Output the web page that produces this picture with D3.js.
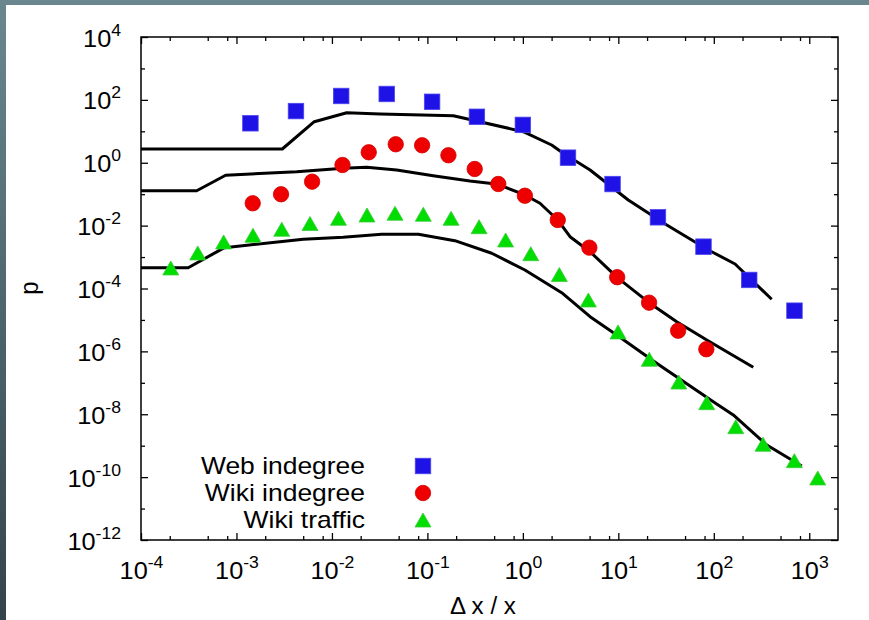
<!DOCTYPE html>
<html>
<head>
<meta charset="utf-8">
<script src="https://cdn.jsdelivr.net/npm/d3@7"></script>
<style>
  html, body { margin: 0; padding: 0; background: #ffffff; }
  svg { display: block; font-family: "Liberation Sans", Arial, Helvetica, sans-serif; }
</style>
</head>
<body>
<script>
// Measured series (symbols)
const webX = [1.4e-3, 4.2e-3, 1.25e-2, 3.75e-2, 0.112, 0.33, 1.0, 2.97, 8.7, 26, 78, 235, 700];
const webP = [18, 44, 133, 154, 87, 29, 16, 1.45, 0.21, 0.0184, 2.14e-3, 1.87e-4, 1.97e-5];

const wikiInX = [1.48e-3, 2.93e-3, 6.2e-3, 1.29e-2, 2.43e-2, 4.66e-2, 8.8e-2, 0.166, 0.313, 0.553,
                 1.05, 2.32, 4.97, 9.73, 21, 42.3, 83.5];
const wikiInP = [0.0514, 0.0993, 0.25, 0.849, 2.15, 3.87, 3.59, 1.73, 0.634, 0.211,
                 0.0895, 0.0151, 1.99e-3, 2.29e-4, 3.54e-5, 4.55e-6, 1.17e-6];

const trafficX = [2.05e-4, 3.93e-4, 7.34e-4, 1.49e-3, 2.98e-3, 5.89e-3, 1.17e-2, 2.33e-2, 4.58e-2, 9.06e-2,
                  0.177, 0.348, 0.66, 1.21, 2.41, 4.85, 9.93, 21.1, 43, 84.3, 170, 328, 698, 1227];
const trafficP = [4.5e-4, 1.35e-3, 3.02e-3, 4.93e-3, 7.66e-3, 1.17e-2, 1.71e-2, 2.18e-2, 2.47e-2, 2.30e-2,
                  1.71e-2, 9.25e-3, 3.49e-3, 1.28e-3, 2.79e-4, 4.31e-5, 4.14e-6, 5.61e-7, 1.06e-7, 2.34e-8,
                  4.03e-9, 1.11e-9, 3.34e-10, 9.4e-11];

// Model curves (black lines)
const webFitX = [1e-4, 3.02e-3, 6.53e-3, 1.43e-2, 3.19e-2, 0.187, 1.01, 2.0, 2.65, 5.06, 12.7, 32.2, 87.7, 167, 404];
const webFitP = [2.74, 2.74, 20.2, 39.1, 35.6, 31.4, 9.73, 3.67, 2.0, 0.589, 0.0655, 0.0105, 1.68e-3, 6.03e-4, 4.54e-5];

const wikiFitX = [1e-4, 3.83e-4, 7.7e-4, 4.28e-3, 1.31e-2, 2.31e-2, 4.77e-2, 0.115, 0.279, 0.55,
                  1.05, 1.51, 2.32, 3.12, 5.06, 9.77, 21, 40.9, 84.4, 259];
const wikiFitP = [0.129, 0.129, 0.399, 0.52, 0.667, 0.717, 0.589, 0.387, 0.263, 0.206,
                  0.0944, 0.0514, 0.0151, 4.45e-3, 1.48e-3, 2.21e-4, 3.54e-5, 8.81e-6, 2.31e-6, 3.12e-7];

const trafficFitX = [1e-4, 3.12e-4, 7.47e-4, 5.01e-3, 1.31e-2, 3.32e-2, 8.04e-2, 0.194, 0.472,
                     1.05, 2.55, 5.06, 9.62, 25.2, 98.8, 160, 359, 834];
const trafficFitP = [4.59e-4, 4.59e-4, 1.99e-3, 3.68e-3, 4.26e-3, 5.31e-3, 5.31e-3, 3.32e-3, 1.32e-3,
                     3.88e-4, 7.36e-5, 1.27e-5, 3.32e-6, 4.19e-7, 2.51e-8, 9.48e-9, 1.05e-9, 2.26e-10];

// Tick exponents
const xTickExps = [-4, -3, -2, -1, 0, 1, 2, 3];
const xMinorMantissas = [2, 5, 8];
const yTickExps = [-12, -10, -8, -6, -4, -2, 0, 2, 4];
const yMinorExps = [-11, -9, -7, -5, -3, -1, 1, 3];

const legendLabels = ["Web indegree", "Wiki indegree", "Wiki traffic"];

const W = 869, H = 620;
const L = 141, R = 838, T = 37, B = 540;
const FONT = 23, SUP = 16;

const x = d3.scaleLog().domain([1e-4, 2e3]).range([L, R]);
const y = d3.scaleLog().domain([1e-12, 1e4]).range([B, T]);

const svg = d3.select("body").append("svg").attr("width", W).attr("height", H);

// window-like frame behind the white canvas
const defs = svg.append("defs");
const grad = defs.append("linearGradient").attr("id", "frameGrad")
  .attr("x1", 0).attr("y1", 0).attr("x2", 0).attr("y2", 1);
grad.append("stop").attr("offset", "0%").attr("stop-color", "#6a8790");
grad.append("stop").attr("offset", "100%").attr("stop-color", "#33434b");
svg.append("rect").attr("width", W).attr("height", H).attr("fill", "url(#frameGrad)");
svg.append("rect").attr("x", 6).attr("y", 5).attr("width", W - 6).attr("height", H - 5).attr("fill", "#ffffff");

const xMajor = xTickExps.map(e => Math.pow(10, e));
const xMinor = [];
xTickExps.forEach(e => xMinorMantissas.forEach(m => {
  const v = m * Math.pow(10, e);
  if (v < x.domain()[1]) xMinor.push(v);
}));
const yMajor = yTickExps.map(e => Math.pow(10, e));
const yMinor = yMinorExps.map(e => Math.pow(10, e));

function expOf(v) { return Math.round(Math.log10(v)); }

// "10" with a raised exponent, slightly widened like the plotting font
function powerLabel(text, v, tx, ty) {
  text.attr("x", 0).attr("y", 0).attr("dy", null)
    .attr("transform", `translate(${tx},${ty}) scale(1.1,1)`)
    .attr("fill", "#000").attr("font-size", FONT);
  text.text(null);
  text.append("tspan").text("10");
  text.append("tspan").attr("font-size", SUP).attr("dy", -11).text(String(expOf(v)));
}

function tidy(g) {
  g.select(".domain").remove();
  g.selectAll(".tick line").attr("stroke", "#000").attr("stroke-width", 1.3);
}

// bottom axis
svg.append("g").attr("transform", `translate(0,${B})`)
  .call(d3.axisBottom(x).tickValues(xMajor).tickSizeInner(-7).tickSizeOuter(0).tickFormat(""))
  .call(tidy)
  .call(g => g.selectAll(".tick text").attr("text-anchor", "middle")
    .each(function (d) { powerLabel(d3.select(this), d, 0, 39); }));
svg.append("g").attr("transform", `translate(0,${B})`)
  .call(d3.axisBottom(x).tickValues(xMinor).tickSizeInner(-4).tickSizeOuter(0).tickFormat(""))
  .call(tidy).call(g => g.selectAll(".tick text").remove());

// top mirror
svg.append("g").attr("transform", `translate(0,${T})`)
  .call(d3.axisBottom(x).tickValues(xMajor).tickSizeInner(7).tickSizeOuter(0).tickFormat(""))
  .call(tidy).call(g => g.selectAll(".tick text").remove());
svg.append("g").attr("transform", `translate(0,${T})`)
  .call(d3.axisBottom(x).tickValues(xMinor).tickSizeInner(4).tickSizeOuter(0).tickFormat(""))
  .call(tidy).call(g => g.selectAll(".tick text").remove());

// left axis
svg.append("g").attr("transform", `translate(${L},0)`)
  .call(d3.axisLeft(y).tickValues(yMajor).tickSizeInner(-7).tickSizeOuter(0).tickFormat(""))
  .call(tidy)
  .call(g => g.selectAll(".tick text").attr("text-anchor", "end")
    .each(function (d) { powerLabel(d3.select(this), d, -20, 9); }));
svg.append("g").attr("transform", `translate(${L},0)`)
  .call(d3.axisLeft(y).tickValues(yMinor).tickSizeInner(-4).tickSizeOuter(0).tickFormat(""))
  .call(tidy).call(g => g.selectAll(".tick text").remove());

// right mirror
svg.append("g").attr("transform", `translate(${R},0)`)
  .call(d3.axisLeft(y).tickValues(yMajor).tickSizeInner(7).tickSizeOuter(0).tickFormat(""))
  .call(tidy).call(g => g.selectAll(".tick text").remove());
svg.append("g").attr("transform", `translate(${R},0)`)
  .call(d3.axisLeft(y).tickValues(yMinor).tickSizeInner(4).tickSizeOuter(0).tickFormat(""))
  .call(tidy).call(g => g.selectAll(".tick text").remove());

// frame
svg.append("rect").attr("x", L).attr("y", T).attr("width", R - L).attr("height", B - T)
  .attr("fill", "none").attr("stroke", "#000").attr("stroke-width", 1.5);

// axis titles
svg.append("text").attr("transform", "translate(483,614) scale(1.05,1)").attr("text-anchor", "middle")
  .attr("font-size", FONT).attr("fill", "#000").text("Δ x / x");
svg.append("text").attr("transform", "translate(38,288) rotate(-90) scale(1,1.1)").attr("text-anchor", "middle")
  .attr("font-size", FONT + 1).attr("fill", "#000").text("p");

// model lines
const line = d3.line().x(d => x(d[0])).y(d => y(d[1]));
const zip = (a, b) => a.map((v, i) => [v, b[i]]);
const curves = [zip(webFitX, webFitP), zip(wikiFitX, wikiFitP), zip(trafficFitX, trafficFitP)];
const plot = svg.append("g");
plot.selectAll("path.fit").data(curves).join("path").attr("class", "fit")
  .attr("d", line).attr("fill", "none").attr("stroke", "#000")
  .attr("stroke-width", 3).attr("stroke-linejoin", "round");

// symbols
const SQ = 15.5, CR = 7.7, TW = 16, TH = 14;
function triPath(cx, cy) {
  return `M${cx},${cy - TH / 2}L${cx + TW / 2},${cy + TH / 2}L${cx - TW / 2},${cy + TH / 2}Z`;
}
const blue = "#1e12e6", red = "#ee0000", green = "#00dd00";

plot.selectAll("rect.web").data(zip(webX, webP)).join("rect").attr("class", "web")
  .attr("x", d => x(d[0]) - SQ / 2).attr("y", d => y(d[1]) - SQ / 2)
  .attr("width", SQ).attr("height", SQ)
  .attr("fill", blue).attr("stroke", "#4b44ee").attr("stroke-width", 0.8);

plot.selectAll("circle.wiki").data(zip(wikiInX, wikiInP)).join("circle").attr("class", "wiki")
  .attr("cx", d => x(d[0])).attr("cy", d => y(d[1])).attr("r", CR)
  .attr("fill", red).attr("stroke", "#d40000").attr("stroke-width", 0.8);

plot.selectAll("path.traffic").data(zip(trafficX, trafficP)).join("path").attr("class", "traffic")
  .attr("d", d => triPath(x(d[0]), y(d[1])))
  .attr("fill", green).attr("stroke", "#3ccc3c").attr("stroke-width", 0.8);

// legend
const legY = [466, 493, 520];
const leg = svg.append("g");
legendLabels.forEach((lab, i) => {
  leg.append("text").attr("transform", `translate(365,${legY[i] + 8}) scale(1.15,1)`)
    .attr("text-anchor", "end").attr("font-size", FONT).attr("fill", "#000").text(lab);
});
leg.append("rect").attr("x", 423 - SQ / 2).attr("y", legY[0] - SQ / 2).attr("width", SQ).attr("height", SQ)
  .attr("fill", blue).attr("stroke", "#4b44ee").attr("stroke-width", 0.8);
leg.append("circle").attr("cx", 423).attr("cy", legY[1]).attr("r", CR)
  .attr("fill", red).attr("stroke", "#d40000").attr("stroke-width", 0.8);
leg.append("path").attr("d", triPath(423, legY[2]))
  .attr("fill", green).attr("stroke", "#3ccc3c").attr("stroke-width", 0.8);
</script>
</body>
</html>
